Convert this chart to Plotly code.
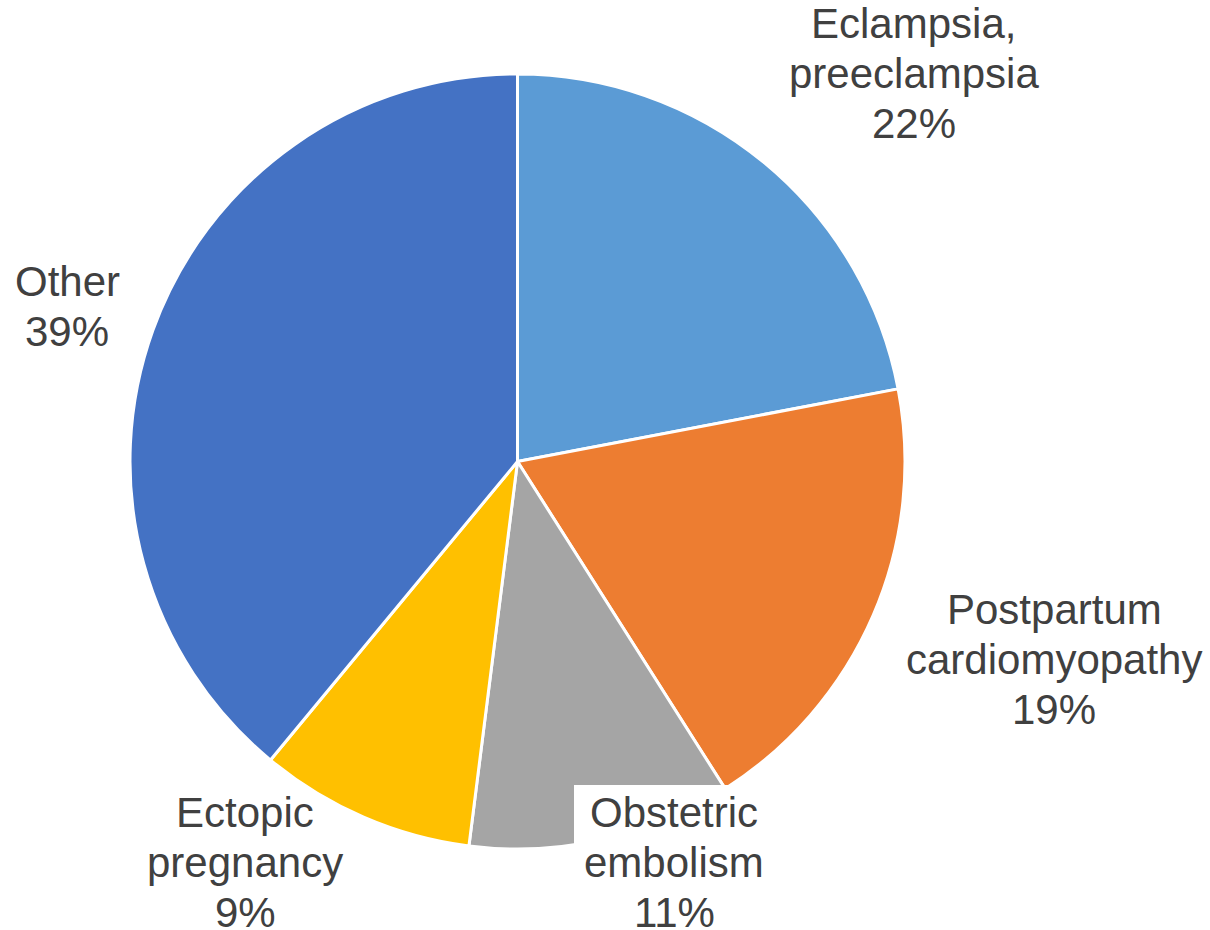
import plotly.graph_objects as go

labels = ["Eclampsia,\npreeclampsia", "Postpartum\ncardiomyopathy", "Obstetric\nembolism",
          "Ectopic\npregnancy", "Other"]
values = [22, 19, 11, 9, 39]
colors = ["#5B9BD5", "#ED7D31", "#A5A5A5", "#FFC000", "#4472C4"]

W, H = 1210, 930
# label block centres in pixels (x centre, y centre of block)
label_pos = [(914, 73), (1054, 659), (674, 862), (245, 862), (67, 306)]
LINE = 50
FONT = dict(family="Liberation Sans, Arial, sans-serif", size=42, color="#404040")

fig = go.Figure(go.Pie(
    labels=[l.replace("\n", " ") for l in labels],
    values=values,
    sort=False,
    direction="clockwise",
    rotation=0,
    marker=dict(colors=colors, line=dict(color="white", width=3)),
    textinfo="none",
    hoverinfo="label+percent",
    domain=dict(x=[(517.5 - 387.5) / W, (517.5 + 387.5) / W],
                y=[(468.5 - 387.5) / H, (468.5 + 387.5) / H]),
    showlegend=False,
))

annotations = []
for lab, val, (cx, cy) in zip(labels, values, label_pos):
    lines = lab.split("\n") + [f"{val}%"]
    n = len(lines)
    for i, t in enumerate(lines):
        y = cy + (i - (n - 1) / 2) * LINE
        annotations.append(dict(
            text=t, x=cx / W, y=1 - y / H, xref="paper", yref="paper",
            xanchor="center", yanchor="middle", showarrow=False, font=FONT,
        ))

shapes = [dict(type="rect", xref="paper", yref="paper",
               x0=574 / W, x1=775 / W, y0=0, y1=1 - 785 / H,
               fillcolor="white", line=dict(width=0), layer="above")]

fig.update_layout(
    width=W, height=H,
    margin=dict(l=0, r=0, t=0, b=0),
    paper_bgcolor="white", plot_bgcolor="white",
    annotations=annotations, shapes=shapes,
)

fig.write_html("out.html", config={"displayModeBar": False},
               post_script="document.body.style.margin='0';document.body.style.overflow='hidden';")
